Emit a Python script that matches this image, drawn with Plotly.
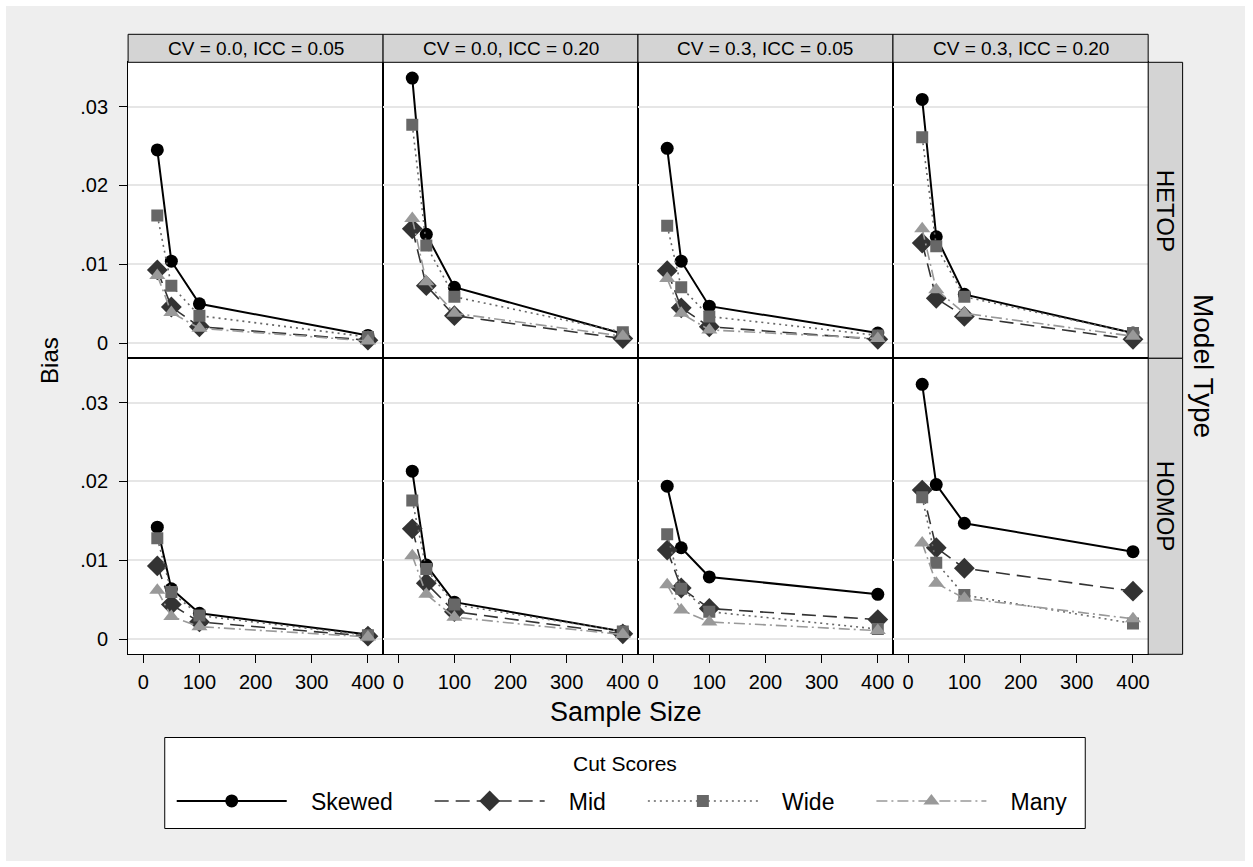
import plotly.graph_objects as go

# ---------------- data ----------------
sample_sizes = [25, 50, 100, 400]
cut_scores = ["Skewed", "Mid", "Wide", "Many"]
panel_titles = ["CV = 0.0, ICC = 0.05", "CV = 0.0, ICC = 0.20",
                "CV = 0.3, ICC = 0.05", "CV = 0.3, ICC = 0.20"]
model_types = ["HETOP", "HOMOP"]
x_tick_vals = [0, 100, 200, 300, 400]
x_tick_text = ["0", "100", "200", "300", "400"]
y_tick_vals = [0, 0.01, 0.02, 0.03]
y_tick_text = ["0", ".01", ".02", ".03"]

hetop_cv00_icc05 = {"Skewed": [0.0245, 0.0104, 0.0050, 0.0010],
                    "Mid":    [0.0093, 0.0046, 0.0021, 0.0004],
                    "Wide":   [0.0162, 0.0073, 0.0035, 0.0008],
                    "Many":   [0.0086, 0.0039, 0.0019, 0.0003]}
hetop_cv00_icc20 = {"Skewed": [0.0336, 0.0138, 0.0071, 0.0012],
                    "Mid":    [0.0145, 0.0073, 0.0035, 0.0006],
                    "Wide":   [0.0277, 0.0124, 0.0059, 0.0014],
                    "Many":   [0.0158, 0.0078, 0.0038, 0.0009]}
hetop_cv03_icc05 = {"Skewed": [0.0247, 0.0104, 0.0047, 0.0013],
                    "Mid":    [0.0092, 0.0045, 0.0021, 0.0005],
                    "Wide":   [0.0149, 0.0071, 0.0034, 0.0010],
                    "Many":   [0.0082, 0.0038, 0.0017, 0.0006]}
hetop_cv03_icc20 = {"Skewed": [0.0309, 0.0135, 0.0062, 0.0013],
                    "Mid":    [0.0127, 0.0057, 0.0034, 0.0005],
                    "Wide":   [0.0261, 0.0123, 0.0059, 0.0013],
                    "Many":   [0.0145, 0.0068, 0.0038, 0.0009]}
homop_cv00_icc05 = {"Skewed": [0.0142, 0.0064, 0.0033, 0.0006],
                    "Mid":    [0.0093, 0.0044, 0.0022, 0.0004],
                    "Wide":   [0.0128, 0.0060, 0.0030, 0.0005],
                    "Many":   [0.0062, 0.0029, 0.0016, 0.0003]}
homop_cv00_icc20 = {"Skewed": [0.0213, 0.0094, 0.0047, 0.0010],
                    "Mid":    [0.0140, 0.0071, 0.0035, 0.0007],
                    "Wide":   [0.0176, 0.0089, 0.0044, 0.0010],
                    "Many":   [0.0106, 0.0057, 0.0028, 0.0006]}
homop_cv03_icc05 = {"Skewed": [0.0194, 0.0116, 0.0079, 0.0057],
                    "Mid":    [0.0113, 0.0065, 0.0039, 0.0025],
                    "Wide":   [0.0133, 0.0064, 0.0035, 0.0013],
                    "Many":   [0.0069, 0.0037, 0.0022, 0.0011]}
homop_cv03_icc20 = {"Skewed": [0.0323, 0.0196, 0.0147, 0.0111],
                    "Mid":    [0.0189, 0.0116, 0.0090, 0.0061],
                    "Wide":   [0.0180, 0.0097, 0.0056, 0.0020],
                    "Many":   [0.0122, 0.0071, 0.0052, 0.0026]}

panels = [[hetop_cv00_icc05, hetop_cv00_icc20, hetop_cv03_icc05, hetop_cv03_icc20],
          [homop_cv00_icc05, homop_cv00_icc20, homop_cv03_icc05, homop_cv03_icc20]]

# ---------------- styling ----------------
W, H = 1253, 867
FONT = "Liberation Sans, Arial, Helvetica, sans-serif"
NB = "\u00a0"
styles = {
    "Skewed": dict(color="#000000", dash="solid", symbol="circle", msize=13, lw=2),
    "Mid":    dict(color="#333333", dash="14px,7px", symbol="diamond", msize=16, lw=1.6),
    "Wide":   dict(color="#676767", dash="2px,4px", symbol="square", msize=12, lw=1.6),
    "Many":   dict(color="#999999", dash="11px,4px,2px,4px", symbol="triangle-up", msize=14, lw=1.6),
}
col_px = [128.3, 383.7, 639.0, 894.4, 1150.0]
row_px = [62.3, 358.3, 654.3]
px2x = lambda p: p / W
px2y = lambda p: 1 - p / H

fig = go.Figure()
layout_axes = {}
for r in range(2):
    for c in range(4):
        k = r * 4 + c + 1
        xname = "xaxis" if k == 1 else f"xaxis{k}"
        yname = "yaxis" if k == 1 else f"yaxis{k}"
        xref = "x" if k == 1 else f"x{k}"
        yref = "y" if k == 1 else f"y{k}"
        data = panels[r][c]
        for s in cut_scores:
            st = styles[s]
            fig.add_trace(go.Scatter(
                x=sample_sizes, y=data[s], xaxis=xref, yaxis=yref,
                mode="lines+markers", name=NB * 3 + s + NB * 5, legendgroup=s,
                showlegend=(k == 1),
                line=dict(color=st["color"], dash=st["dash"], width=st["lw"]),
                marker=dict(symbol=st["symbol"], size=st["msize"], color=st["color"],
                            line=dict(width=0)),
            ))
        layout_axes[xname] = dict(
            domain=[px2x(col_px[c]), px2x(col_px[c + 1])],
            range=[-27, 427], anchor=yref,
            showgrid=False, zeroline=False,
            showline=True, mirror=True, linecolor="black", linewidth=1,
            tickvals=x_tick_vals, ticktext=x_tick_text,
            ticks="outside" if r == 1 else "", ticklen=8, tickcolor="black",
            showticklabels=(r == 1), ticklabelstandoff=2,
            tickfont=dict(size=20, color="black", family=FONT),
        )
        layout_axes[yname] = dict(
            domain=[px2y(row_px[r + 1]), px2y(row_px[r])],
            range=[-0.0019, 0.0356], anchor=xref,
            showgrid=True, gridcolor="#e6e6e6", gridwidth=1.5, zeroline=False,
            showline=True, mirror=True, linecolor="black", linewidth=1,
            tickvals=y_tick_vals, ticktext=y_tick_text,
            ticks="outside" if c == 0 else "", ticklen=8, tickcolor="black",
            showticklabels=(c == 0), ticklabelstandoff=7,
            tickfont=dict(size=20, color="black", family=FONT),
        )

shapes = []
annotations = []
# outer white frame
shapes.append(dict(type="rect", xref="paper", yref="paper", x0=0, x1=1, y0=0, y1=1,
                   line=dict(color="white", width=12), fillcolor="rgba(0,0,0,0)", layer="above"))
# column strips
for c in range(4):
    shapes.append(dict(type="rect", xref="paper", yref="paper",
                       x0=px2x(col_px[c]), x1=px2x(col_px[c + 1]),
                       y0=px2y(62.3), y1=px2y(34.3),
                       fillcolor="#d4d4d4", line=dict(color="black", width=1), layer="above"))
    annotations.append(dict(text=panel_titles[c], xref="paper", yref="paper",
                            x=px2x((col_px[c] + col_px[c + 1]) / 2), y=px2y(48.3),
                            xanchor="center", yanchor="middle", showarrow=False,
                            font=dict(size=19, color="black", family=FONT)))
# row strips
for r in range(2):
    shapes.append(dict(type="rect", xref="paper", yref="paper",
                       x0=px2x(1150.0), x1=px2x(1184.5),
                       y0=px2y(row_px[r + 1]), y1=px2y(row_px[r]),
                       fillcolor="#d4d4d4", line=dict(color="black", width=1), layer="above"))
    annotations.append(dict(text=model_types[r], xref="paper", yref="paper",
                            x=px2x(1167.5), y=px2y((row_px[r] + row_px[r + 1]) / 2),
                            xanchor="center", yanchor="middle", showarrow=False, textangle=90,
                            font=dict(size=24, color="black", family=FONT)))

annotations.append(dict(text="Bias", xref="paper", yref="paper", x=px2x(50), y=px2y(360),
                        xanchor="center", yanchor="middle", showarrow=False, textangle=-90,
                        font=dict(size=24, color="black", family=FONT)))
annotations.append(dict(text="Model Type", xref="paper", yref="paper", x=px2x(1206), y=px2y(366),
                        xanchor="center", yanchor="middle", showarrow=False, textangle=90,
                        font=dict(size=28, color="black", family=FONT)))
annotations.append(dict(text="Sample Size", xref="paper", yref="paper", x=px2x(627), y=px2y(712),
                        xanchor="center", yanchor="middle", showarrow=False,
                        font=dict(size=27, color="black", family=FONT)))

# legend box + title
shapes.append(dict(type="rect", xref="paper", yref="paper",
                   x0=px2x(165), x1=px2x(1087), y0=px2y(828.5), y1=px2y(737.5),
                   fillcolor="white", line=dict(color="black", width=1), layer="below"))
annotations.append(dict(text="Cut Scores", xref="paper", yref="paper", x=px2x(626), y=px2y(763),
                        xanchor="center", yanchor="middle", showarrow=False,
                        font=dict(size=21, color="black", family=FONT)))

fig.update_layout(
    width=W, height=H, autosize=False,
    margin=dict(l=0, r=0, t=0, b=0),
    paper_bgcolor="#eeeeee", plot_bgcolor="white",
    font=dict(family=FONT, color="black"),
    shapes=shapes, annotations=annotations,
    showlegend=True,
    legend=dict(orientation="h", x=px2x(172), xanchor="left",
                y=px2y(801), yanchor="middle",
                bgcolor="rgba(0,0,0,0)", borderwidth=0,
                font=dict(size=23, color="black", family=FONT),
                itemwidth=110, traceorder="normal"),
    **layout_axes,
)

fig.write_html("out.html")
